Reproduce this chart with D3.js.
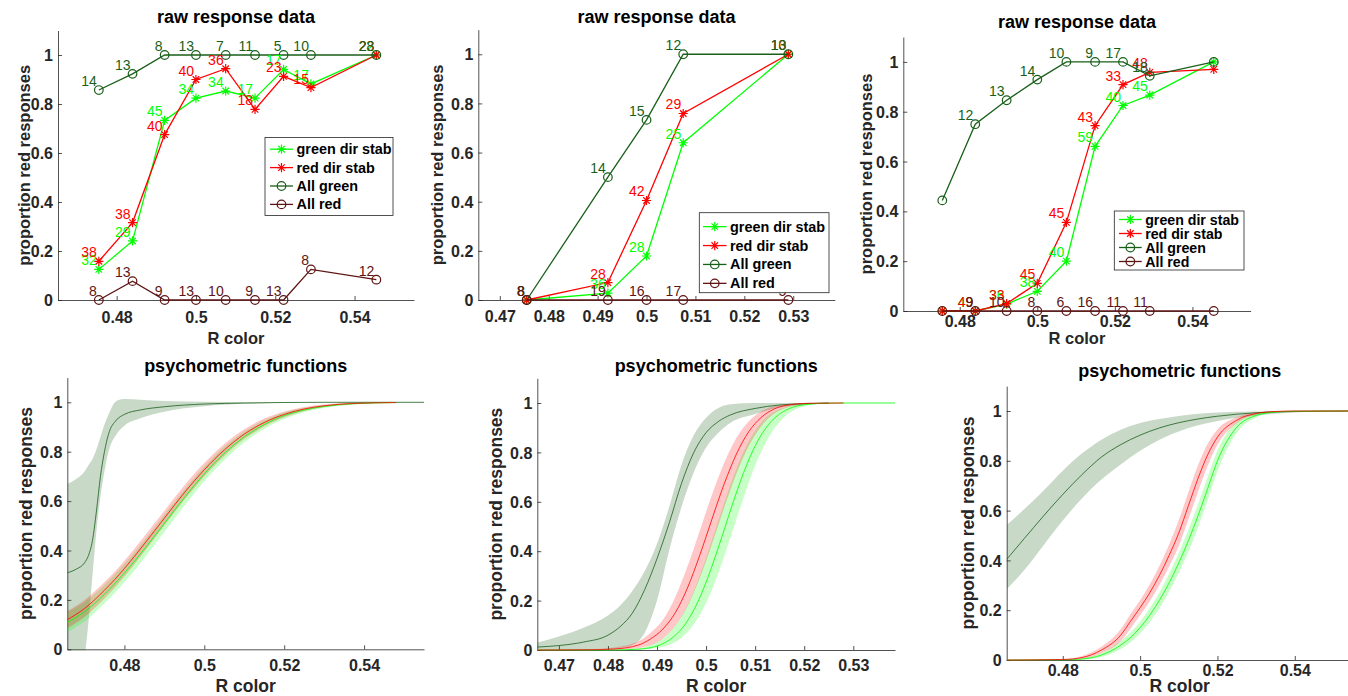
<!DOCTYPE html>
<html>
<head>
<meta charset="utf-8">
<script src="https://cdn.jsdelivr.net/npm/d3@7"></script>
<style>
  body { margin: 0; background: #fff; }
  svg { display: block; }
</style>
</head>
<body>
<script>
// colours of the four conditions
const C_GREEN = '#00ff00';
const C_RED = '#ff0000';
const C_ALLG = 'rgb(25,95,25)';
const C_ALLR = 'rgb(94,20,20)';
const AX = '#262626';
const FONT = '"Liberation Sans", Arial, Helvetica, sans-serif';

const seriesNames = ['green dir stab', 'red dir stab', 'All green', 'All red'];
const yTicks = [0, 0.2, 0.4, 0.6, 0.8, 1];

// ---------- raw response data, panel 1 ----------
const raw1X = [0.4755, 0.4840, 0.4921, 0.5000, 0.5075, 0.5149, 0.5221, 0.5290, 0.5455];
const raw1Green = [0.125, 0.241, 0.733, 0.824, 0.853, 0.824, 0.941, 0.882, 1.0];
const raw1GreenN = [32, 29, 45, 34, 34, 17, 17, 17, 22];
const raw1Red = [0.158, 0.316, 0.675, 0.900, 0.944, 0.778, 0.913, 0.867, 1.0];
const raw1RedN = [38, 38, 40, 40, 36, 18, 23, 15, 23];
const raw1AllG = [0.857, 0.923, 1, 1, 1, 1, 1, 1, 1];
const raw1AllGN = [14, 13, 8, 13, 7, 11, 5, 10, 28];
const raw1AllR = [0, 0.077, 0, 0, 0, 0, 0, 0.125, 0.083];
const raw1AllRN = [8, 13, 9, 13, 10, 9, 13, 8, 12];
const raw1Ticks = [0.48, 0.5, 0.52, 0.54];

// ---------- raw response data, panel 2 ----------
const raw2X = [0.4755, 0.4921, 0.5000, 0.5075, 0.5290];
const raw2Green = [0, 0.028, 0.179, 0.640, 1.0];
const raw2GreenN = [8, 36, 28, 25, 18];
const raw2Red = [0, 0.071, 0.405, 0.759, 1.0];
const raw2RedN = [8, 28, 42, 29, 10];
const raw2AllG = [0, 0.5, 0.733, 1.0, 1.0];
const raw2AllGN = [8, 14, 15, 12, 13];
const raw2AllR = [0, 0, 0, 0, 0];
const raw2AllRN = [8, 19, 16, 17, 5];
const raw2Ticks = [0.47, 0.48, 0.49, 0.5, 0.51, 0.52, 0.53];

// ---------- raw response data, panel 3 ----------
const raw3X = [0.4755, 0.4840, 0.4921, 0.5000, 0.5075, 0.5149, 0.5221, 0.5290, 0.5455];
const raw3Green = [0, 0, 0.028, 0.079, 0.200, 0.661, 0.825, 0.867, 1.0];
const raw3GreenN = [null, 49, 36, 38, 40, 59, 40, 45, null];
const raw3Red = [0, 0, 0.030, 0.111, 0.356, 0.744, 0.909, 0.958, 0.970];
const raw3RedN = [null, 49, 33, 45, 45, 43, 33, 48, null];
const raw3AllG = [0.444, 0.750, 0.846, 0.929, 1, 1, 1, 0.944, 1.0];
const raw3AllGN = [null, 12, 13, 14, 10, 9, 17, 18, null];
const raw3AllR = [0, 0, 0, 0, 0, 0, 0, 0, 0];
const raw3AllRN = [null, 9, 10, 8, 6, 16, 11, 11, null];
const raw3Ticks = [0.48, 0.5, 0.52, 0.54];

// ---------- psychometric functions, panel 1 ----------
const fit1X = [0.4657, 0.470, 0.475, 0.480, 0.485, 0.490, 0.495, 0.500, 0.505, 0.510, 0.515, 0.520, 0.525, 0.530, 0.537, 0.548];
const fit1RedMid = [0.12, 0.165, 0.239, 0.327, 0.427, 0.531, 0.634, 0.727, 0.807, 0.871, 0.918, 0.951, 0.973, 0.986, 0.995, 0.999];
const fit1RedLo = [0.085, 0.131, 0.206, 0.295, 0.396, 0.501, 0.605, 0.700, 0.783, 0.851, 0.902, 0.939, 0.965, 0.981, 0.992, 0.998];
const fit1RedHi = [0.155, 0.199, 0.272, 0.359, 0.458, 0.561, 0.663, 0.754, 0.831, 0.891, 0.934, 0.963, 0.981, 0.991, 0.998, 1.0];
const fit1GreenMid = [0.11, 0.152, 0.223, 0.309, 0.406, 0.510, 0.614, 0.710, 0.793, 0.860, 0.910, 0.946, 0.969, 0.983, 0.994, 0.999];
const fit1GreenLo = [0.07, 0.113, 0.185, 0.272, 0.370, 0.475, 0.581, 0.680, 0.766, 0.838, 0.892, 0.933, 0.960, 0.977, 0.991, 0.998];
const fit1GreenHi = [0.15, 0.191, 0.261, 0.346, 0.442, 0.545, 0.647, 0.740, 0.820, 0.882, 0.928, 0.959, 0.978, 0.989, 0.997, 1.0];
const fit1AllX = [0.4657, 0.468, 0.470, 0.471, 0.472, 0.473, 0.474, 0.475, 0.476, 0.478, 0.480, 0.484, 0.490, 0.500, 0.510, 0.530, 0.555];
const fit1AllMid = [0.31, 0.325, 0.35, 0.38, 0.44, 0.56, 0.70, 0.80, 0.87, 0.928, 0.951, 0.969, 0.982, 0.993, 0.997, 1.0, 1.0];
const fit1AllLo = [-0.6, -0.35, -0.04, 0.11, 0.30, 0.48, 0.62, 0.72, 0.80, 0.87, 0.905, 0.935, 0.962, 0.984, 0.994, 1.0, 1.0];
const fit1AllHi = [0.669, 0.69, 0.72, 0.745, 0.77, 0.81, 0.86, 0.91, 0.95, 1.005, 1.013, 1.01, 1.005, 1.002, 1.0, 1.0, 1.0];

// ---------- psychometric functions, panel 2 ----------
const fit2RedX = [0.4656, 0.4762, 0.4812, 0.4862, 0.4887, 0.4912, 0.4937, 0.4962, 0.4987, 0.5012, 0.5037, 0.5062, 0.5087, 0.5112, 0.5137, 0.5162, 0.5212, 0.528];
const fit2RedMid = [0.0, 0.001, 0.004, 0.02, 0.045, 0.085, 0.15, 0.251, 0.383, 0.53, 0.673, 0.794, 0.884, 0.941, 0.974, 0.99, 0.999, 1.0];
const fit2RedHi = [0.0, 0.003, 0.01, 0.035, 0.07, 0.122, 0.214, 0.338, 0.482, 0.629, 0.758, 0.859, 0.926, 0.966, 0.986, 0.995, 1.0, 1.0];
const fit2RedLo = [0.0, 0.0, 0.001, 0.008, 0.02, 0.047, 0.097, 0.177, 0.29, 0.429, 0.577, 0.715, 0.826, 0.905, 0.954, 0.98, 0.997, 1.0];
const fit2GreenX = [0.4656, 0.4758, 0.4808, 0.4858, 0.4883, 0.4908, 0.4933, 0.4958, 0.4983, 0.5008, 0.5033, 0.5058, 0.5083, 0.5108, 0.5133, 0.5158, 0.5208, 0.5258, 0.5385];
const fit2GreenMid = [0.0, 0.0, 0.0, 0.003, 0.008, 0.022, 0.052, 0.106, 0.194, 0.317, 0.463, 0.615, 0.751, 0.856, 0.926, 0.966, 0.995, 1.0, 1.0];
const fit2GreenHi = [0.0, 0.0, 0.001, 0.006, 0.017, 0.041, 0.088, 0.166, 0.279, 0.421, 0.573, 0.715, 0.83, 0.91, 0.958, 0.982, 0.998, 1.0, 1.0];
const fit2GreenLo = [0.0, 0.0, 0.0, 0.001, 0.004, 0.011, 0.028, 0.064, 0.128, 0.225, 0.356, 0.506, 0.655, 0.784, 0.879, 0.94, 0.99, 0.999, 1.0];
const fit2AllX = [0.4656, 0.470, 0.475, 0.480, 0.4825, 0.485, 0.4875, 0.490, 0.4925, 0.495, 0.4975, 0.500, 0.5025, 0.505, 0.510, 0.515, 0.520, 0.525];
const fit2AllMid = [0.012, 0.018, 0.032, 0.06, 0.095, 0.15, 0.245, 0.37, 0.515, 0.675, 0.80, 0.88, 0.925, 0.952, 0.978, 0.992, 0.997, 1.0];
const fit2AllHi = [0.03, 0.055, 0.09, 0.14, 0.18, 0.24, 0.32, 0.43, 0.58, 0.75, 0.87, 0.94, 0.98, 0.995, 1.0, 1.0, 1.0, 1.0];
const fit2AllLo = [0.0, 0.0, 0.0, 0.002, 0.008, 0.02, 0.07, 0.20, 0.405, 0.58, 0.72, 0.82, 0.88, 0.92, 0.955, 0.982, 0.993, 0.998];

// ---------- psychometric functions, panel 3 ----------
const fit3X = [0.4655, 0.480, 0.485, 0.490, 0.495, 0.4975, 0.500, 0.5025, 0.505, 0.5075, 0.510, 0.5125, 0.515, 0.5175, 0.520, 0.525, 0.530, 0.535, 0.540, 0.555];
const fit3RedMid = [0, 0.002, 0.01, 0.04, 0.10, 0.155, 0.21, 0.27, 0.34, 0.42, 0.51, 0.62, 0.73, 0.825, 0.895, 0.963, 0.99, 0.998, 1.0, 1.0];
const fit3RedHi = [0, 0.004, 0.016, 0.053, 0.124, 0.184, 0.24, 0.304, 0.379, 0.464, 0.562, 0.675, 0.783, 0.869, 0.926, 0.975, 0.994, 0.999, 1.0, 1.0];
const fit3RedLo = [0, 0, 0.004, 0.027, 0.076, 0.126, 0.18, 0.236, 0.301, 0.376, 0.458, 0.565, 0.677, 0.781, 0.864, 0.951, 0.986, 0.997, 1.0, 1.0];
const fit3GreenMid = [0, 0.001, 0.004, 0.02, 0.06, 0.09, 0.13, 0.18, 0.24, 0.31, 0.39, 0.48, 0.58, 0.69, 0.80, 0.935, 0.982, 0.996, 0.999, 1.0];
const fit3GreenHi = [0, 0.002, 0.007, 0.028, 0.076, 0.11, 0.154, 0.208, 0.272, 0.346, 0.43, 0.524, 0.627, 0.737, 0.842, 0.957, 0.99, 0.998, 1.0, 1.0];
const fit3GreenLo = [0, 0, 0.001, 0.012, 0.044, 0.07, 0.106, 0.152, 0.208, 0.274, 0.35, 0.436, 0.533, 0.643, 0.758, 0.913, 0.974, 0.994, 0.998, 1.0];
const fit3AllX = [0.4655, 0.470, 0.475, 0.480, 0.485, 0.490, 0.495, 0.500, 0.505, 0.510, 0.515, 0.520, 0.530, 0.540, 0.555];
const fit3AllMid = [0.404, 0.487, 0.578, 0.665, 0.745, 0.815, 0.865, 0.903, 0.932, 0.953, 0.968, 0.979, 0.993, 0.998, 1.0];
const fit3AllHi = [0.542, 0.605, 0.68, 0.76, 0.83, 0.885, 0.925, 0.952, 0.968, 0.98, 0.989, 0.994, 0.998, 1.0, 1.0];
const fit3AllLo = [0.284, 0.36, 0.46, 0.56, 0.65, 0.725, 0.785, 0.84, 0.885, 0.918, 0.943, 0.96, 0.982, 0.994, 1.0];

const fmt = d => String(+d.toFixed(3));

const svg = d3.select('body').append('svg')
  .attr('width', 1348).attr('height', 696)
  .style('font-family', FONT);
const defs = svg.append('defs');

function makeAxes(o) {
  const g = svg.append('g');
  const x = d3.scaleLinear().domain(o.xDomain).range(o.xRange);
  const y = d3.scaleLinear().domain([0, 1.1]).range(o.yRange);

  const xa = g.append('g').attr('transform', `translate(0,${o.yRange[0]})`)
    .call(d3.axisBottom(x).tickValues(o.xTicks).tickFormat(fmt).tickSize(-4).tickSizeOuter(0));
  const ya = g.append('g').attr('transform', `translate(${o.xRange[0]},0)`)
    .call(d3.axisLeft(y).tickValues(yTicks).tickFormat(fmt).tickSize(-4).tickSizeOuter(0));
  [xa, ya].forEach(a => {
    a.select('.domain').attr('stroke', AX).attr('stroke-width', 0.8);
    a.selectAll('.tick line').attr('stroke', AX).attr('stroke-width', 0.8);
    a.selectAll('text')
      .attr('fill', AX).attr('font-size', 16).attr('font-weight', 'bold').attr('font-family', FONT);
  });
  xa.selectAll('text').attr('y', o.xTickBase).attr('dy', 0);
  ya.selectAll('text').attr('x', -5).attr('dy', '0.35em');

  // title
  g.append('text')
    .attr('x', (o.xRange[0] + o.xRange[1]) / 2).attr('y', o.titleY)
    .attr('text-anchor', 'middle').attr('font-size', 18).attr('font-weight', 'bold')
    .attr('fill', '#000').text(o.title);

  // axis labels
  if (o.xLabelY) {
    g.append('text')
      .attr('x', (o.xRange[0] + o.xRange[1]) / 2).attr('y', o.xLabelY)
      .attr('text-anchor', 'middle').attr('font-size', o.labelSize).attr('font-weight', 'bold')
      .attr('fill', AX).text('R color');
  }
  g.append('text')
    .attr('transform', `translate(${o.yLabelX},${(o.yRange[0] + o.yRange[1]) / 2}) rotate(-90)`)
    .attr('text-anchor', 'middle').attr('font-size', o.labelSize).attr('font-weight', 'bold')
    .attr('fill', AX).text('proportion red responses');

  return { g, x, y };
}

function marker(g, type, cx, cy, color) {
  if (type === 'star') {
    const s = 4.6, a = s * 0.7071;
    g.append('path')
      .attr('d', `M${cx - s},${cy}L${cx + s},${cy}M${cx},${cy - s}L${cx},${cy + s}` +
                 `M${cx - a},${cy - a}L${cx + a},${cy + a}M${cx - a},${cy + a}L${cx + a},${cy - a}`)
      .attr('stroke', color).attr('stroke-width', 1.2).attr('fill', 'none');
  } else {
    g.append('circle').attr('cx', cx).attr('cy', cy).attr('r', 4.3)
      .attr('fill', 'none').attr('stroke', color).attr('stroke-width', 1.2);
  }
}

function rawPanel(o) {
  const { g, x, y } = makeAxes(o);
  o.series.forEach(s => {
    const pts = o.xs.map((v, i) => [x(v), y(s.y[i])]);
    g.append('path').attr('d', d3.line()(pts))
      .attr('fill', 'none').attr('stroke', s.color).attr('stroke-width', 1.3);
    pts.forEach(p => marker(g, s.marker, p[0], p[1], s.color));
  });
  // trial counts next to each point
  o.series.forEach(s => {
    o.xs.forEach((v, i) => {
      if (s.n[i] == null) return;
      g.append('text')
        .attr('x', x(v) - 2).attr('y', y(s.y[i]) - 4)
        .attr('text-anchor', 'end').attr('font-size', 14)
        .attr('fill', s.color).text(s.n[i]);
    });
  });
  // legend
  const L = o.legend;
  g.append('rect').attr('x', L.x0).attr('y', L.y0)
    .attr('width', L.x1 - L.x0).attr('height', L.y1 - L.y0)
    .attr('fill', '#fff').attr('stroke', AX).attr('stroke-width', 0.8);
  o.series.forEach((s, i) => {
    const cy = L.y0 + L.pad + L.step * (i + 0.5);
    g.append('line').attr('x1', L.lx0).attr('x2', L.lx1).attr('y1', cy).attr('y2', cy)
      .attr('stroke', s.color).attr('stroke-width', 1.3);
    marker(g, s.marker, (L.lx0 + L.lx1) / 2, cy, s.color);
    g.append('text').attr('x', L.lx1 + 3.5).attr('y', cy + 5)
      .attr('font-size', L.size).attr('font-weight', 'bold').attr('fill', '#000')
      .text(s.name);
  });
}

let clipCount = 0;
function fitPanel(o) {
  const { g, x, y } = makeAxes(o);
  const id = 'clip' + (clipCount++);
  defs.append('clipPath').attr('id', id).append('rect')
    .attr('x', o.xRange[0]).attr('y', o.yRange[1])
    .attr('width', o.xRange[1] - o.xRange[0]).attr('height', o.yRange[0] - o.yRange[1] + 1);
  const inner = g.append('g').attr('clip-path', `url(#${id})`);

  const rowsOf = c => c.x.map((v, i) => ({ x: v, m: c.mid[i], lo: c.lo[i], hi: c.hi[i] }));
  const area = d3.area().x(d => x(d.x)).y0(d => y(d.lo)).y1(d => y(d.hi)).curve(d3.curveMonotoneX);
  const line = d3.line().x(d => x(d.x)).y(d => y(d.m)).curve(d3.curveMonotoneX);

  o.curves.forEach(c => {
    inner.append('path').datum(rowsOf(c)).attr('d', area)
      .attr('fill', c.color).attr('fill-opacity', c.alpha).attr('stroke', 'none');
  });
  o.curves.forEach(c => {
    inner.append('path').datum(rowsOf(c)).attr('d', line)
      .attr('fill', 'none').attr('stroke', c.color).attr('stroke-width', 0.8);
  });
}

const rawSeries = (gy, gn, ry, rn, agy, agn, ary, arn) => [
  { name: seriesNames[0], color: C_GREEN, marker: 'star', y: gy, n: gn },
  { name: seriesNames[1], color: C_RED, marker: 'star', y: ry, n: rn },
  { name: seriesNames[2], color: C_ALLG, marker: 'circle', y: agy, n: agn },
  { name: seriesNames[3], color: C_ALLR, marker: 'circle', y: ary, n: arn }
];

rawPanel({
  title: 'raw response data', titleY: 23,
  xDomain: [0.4652, 0.555], xRange: [58, 414], yRange: [300, 30.5],
  xTicks: raw1Ticks, xTickBase: 22.5, xLabelY: 344, yLabelX: 29.8, labelSize: 16.5,
  xs: raw1X,
  series: rawSeries(raw1Green, raw1GreenN, raw1Red, raw1RedN, raw1AllG, raw1AllGN, raw1AllR, raw1AllRN),
  legend: { x0: 265, y0: 137.5, x1: 393, y1: 215.5, pad: 2.5, step: 18.4, lx0: 270, lx1: 293, size: 14.4 }
});

rawPanel({
  title: 'raw response data', titleY: 23,
  xDomain: [0.4656, 0.5385], xRange: [478.3, 834.8], yRange: [300, 29.7],
  xTicks: raw2Ticks, xTickBase: 21.7, xLabelY: null, yLabelX: 443.3, labelSize: 16.5,
  xs: raw2X,
  series: rawSeries(raw2Green, raw2GreenN, raw2Red, raw2RedN, raw2AllG, raw2AllGN, raw2AllR, raw2AllRN),
  legend: { x0: 699.3, y0: 212.7, x1: 829, y1: 292.7, pad: 4.5, step: 18.9, lx0: 703, lx1: 726.5, size: 14.4 }
});

rawPanel({
  title: 'raw response data', titleY: 27.5,
  xDomain: [0.46545, 0.555], xRange: [903.3, 1250.6], yRange: [311, 37],
  xTicks: raw3Ticks, xTickBase: 16.3, xLabelY: 344, yLabelX: 871.5, labelSize: 16.5,
  xs: raw3X,
  series: rawSeries(raw3Green, raw3GreenN, raw3Red, raw3RedN, raw3AllG, raw3AllGN, raw3AllR, raw3AllRN),
  legend: { x0: 1114.3, y0: 211, x1: 1244, y1: 270, pad: 1.5, step: 14, lx0: 1119, lx1: 1141.7, size: 14.2 }
});

const fitCurves = (allX, allMid, allLo, allHi, gX, gMid, gLo, gHi, rX, rMid, rLo, rHi) => [
  { color: C_ALLG, alpha: 0.24, x: allX, mid: allMid, lo: allLo, hi: allHi },
  { color: C_GREEN, alpha: 0.22, x: gX, mid: gMid, lo: gLo, hi: gHi },
  { color: C_RED, alpha: 0.22, x: rX, mid: rMid, lo: rLo, hi: rHi }
];

fitPanel({
  title: 'psychometric functions', titleY: 371.7,
  xDomain: [0.4657, 0.555], xRange: [67.3, 424], yRange: [649.3, 377.6],
  xTicks: raw1Ticks, xTickBase: 21.4, xLabelY: 692.3, yLabelX: 32, labelSize: 17.5,
  curves: fitCurves(fit1AllX, fit1AllMid, fit1AllLo, fit1AllHi,
                    fit1X, fit1GreenMid, fit1GreenLo, fit1GreenHi,
                    fit1X, fit1RedMid, fit1RedLo, fit1RedHi)
});

fitPanel({
  title: 'psychometric functions', titleY: 371.7,
  xDomain: [0.4656, 0.5385], xRange: [537.3, 895], yRange: [650, 378.3],
  xTicks: raw2Ticks, xTickBase: 20.7, xLabelY: 692.3, yLabelX: 502, labelSize: 17.5,
  curves: fitCurves(fit2AllX, fit2AllMid, fit2AllLo, fit2AllHi,
                    fit2GreenX, fit2GreenMid, fit2GreenLo, fit2GreenHi,
                    fit2RedX, fit2RedMid, fit2RedLo, fit2RedHi)
});

fitPanel({
  title: 'psychometric functions', titleY: 376.7,
  xDomain: [0.4655, 0.555], xRange: [1006.7, 1352.8], yRange: [660, 386.1],
  xTicks: raw3Ticks, xTickBase: 16, xLabelY: 692.3, yLabelX: 973.8, labelSize: 17.5,
  curves: fitCurves(fit3AllX, fit3AllMid, fit3AllLo, fit3AllHi,
                    fit3X, fit3GreenMid, fit3GreenLo, fit3GreenHi,
                    fit3X, fit3RedMid, fit3RedLo, fit3RedHi)
});
</script>
</body>
</html>
